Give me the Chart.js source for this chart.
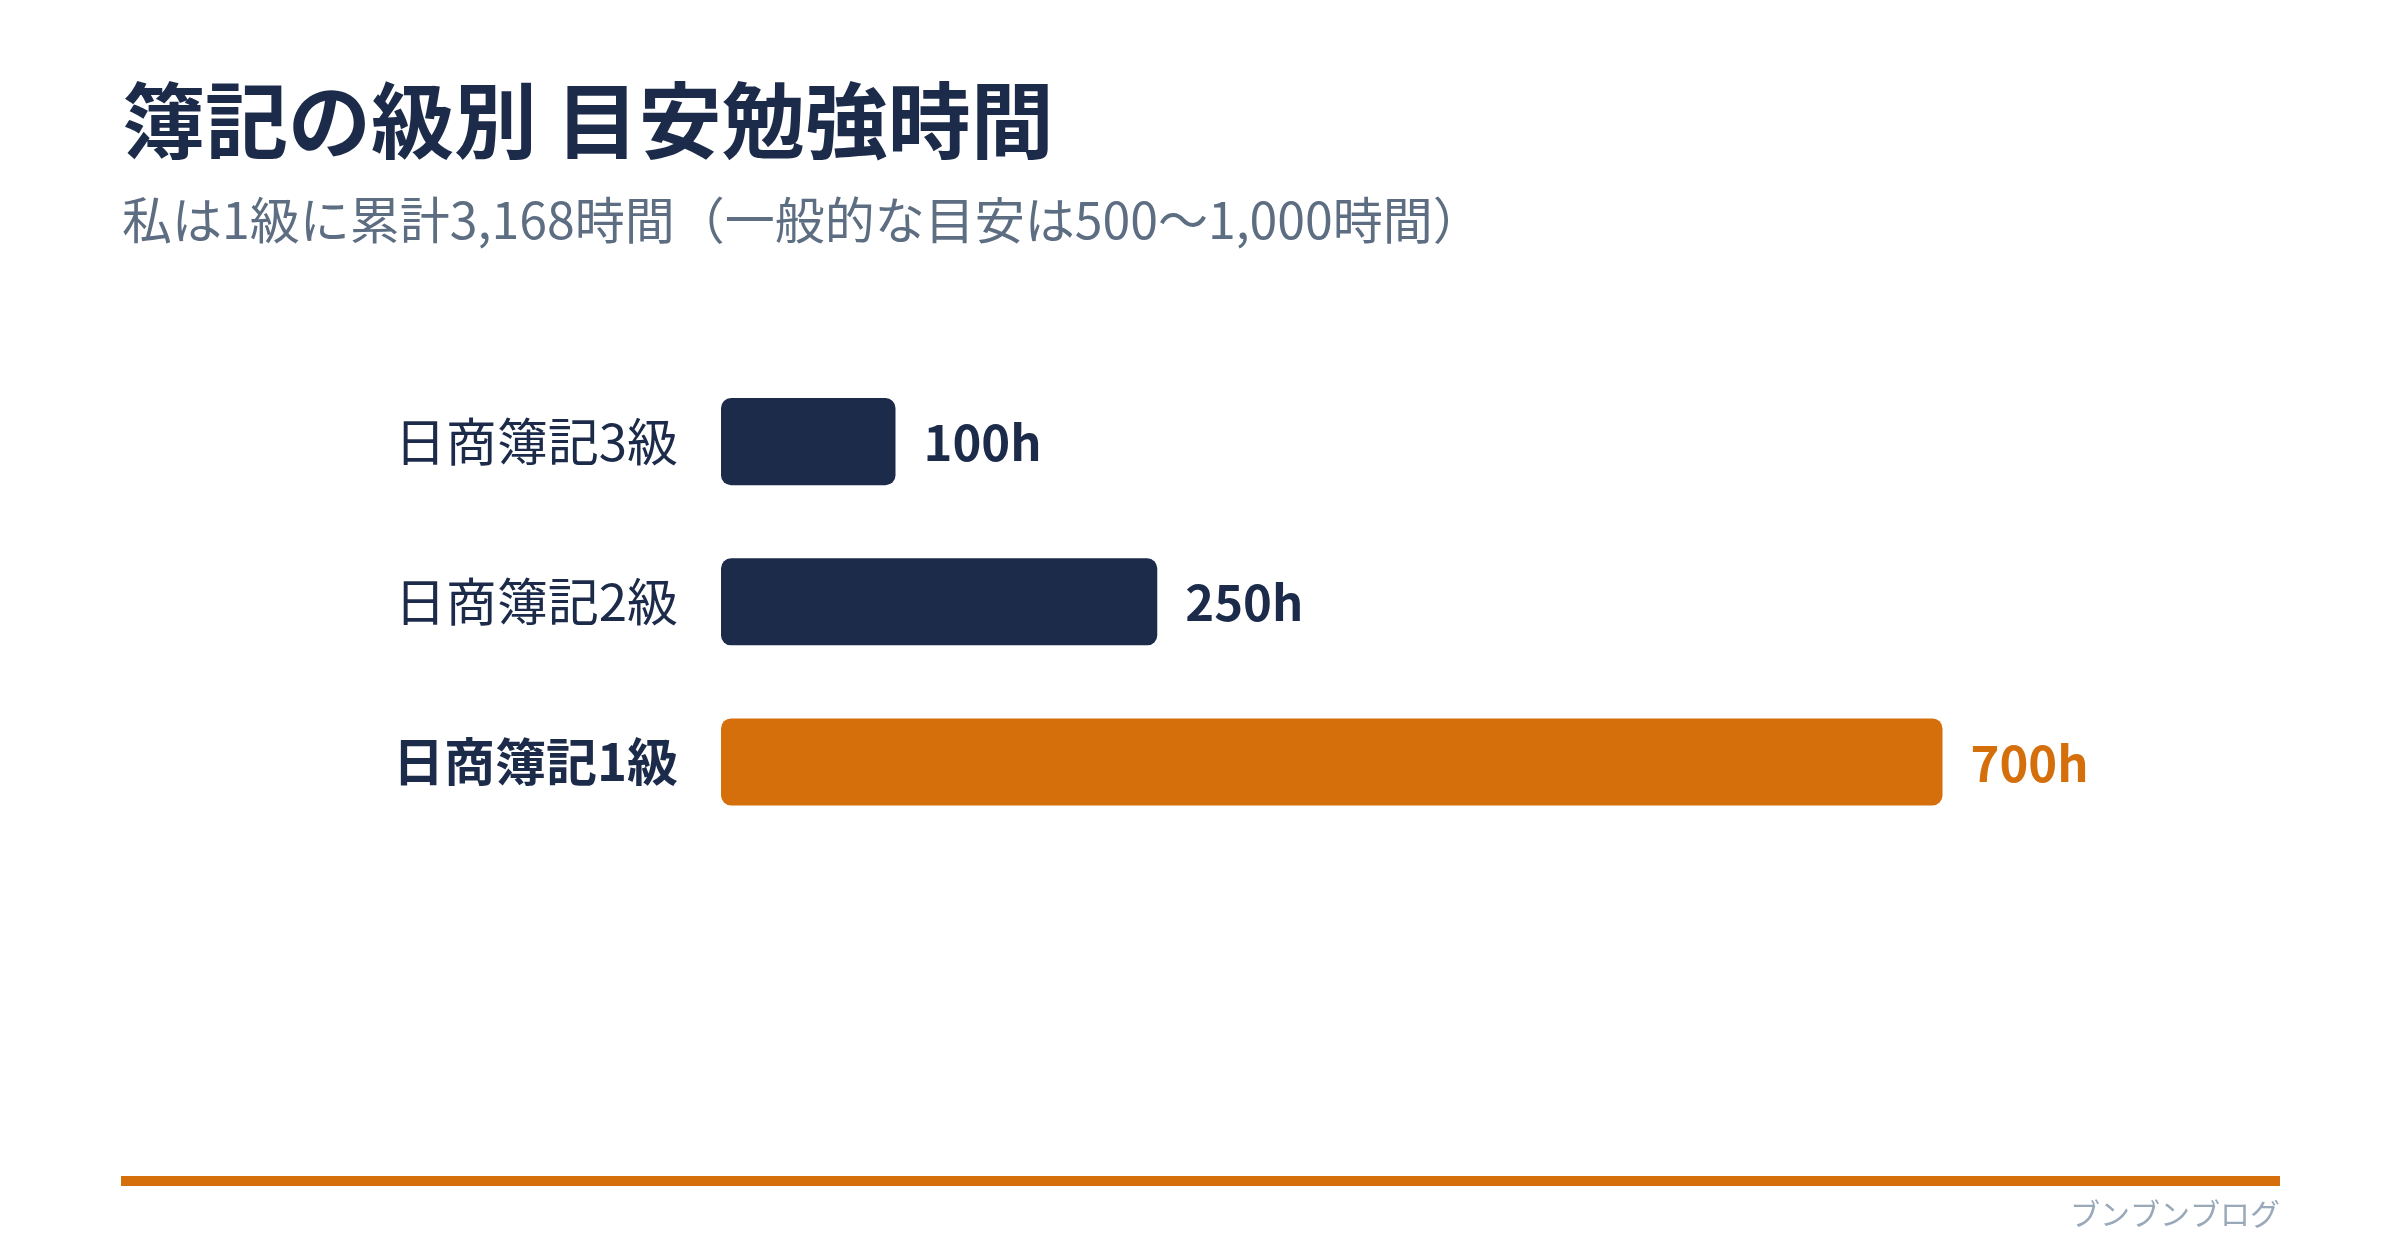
<!DOCTYPE html>
<html lang="ja">
<head>
<meta charset="utf-8">
<title>簿記の級別 目安勉強時間</title>
<script src="https://cdn.jsdelivr.net/npm/chart.js@4.4.1/dist/chart.umd.min.js"></script>
<style>
  html, body { margin: 0; padding: 0; background: #ffffff; }
  #wrap { width: 2400px; height: 1260px; }
  canvas { display: block; }
</style>
</head>
<body>
<div id="wrap"><canvas id="c" width="2400" height="1260"></canvas></div>
<script>
const categories = ['日商簿記3級', '日商簿記2級', '日商簿記1級'];
const hours = [100, 250, 700];
const valueLabels = ['100h', '250h', '700h'];
const barColors = ['#1c2b4a', '#1c2b4a', '#d46f0b'];
const labelColors = ['#1c2b4a', '#1c2b4a', '#d46f0b'];
const titleText = '簿記の級別 目安勉強時間';
const subtitleText = '私は1級に累計3,168時間（一般的な目安は500〜1,000時間）';
const footerText = 'ブンブンブログ';

const FONT = '"Noto Sans CJK JP", "Noto Sans", sans-serif';

const valueLabelPlugin = {
  id: 'valueLabels',
  afterDatasetsDraw(chart) {
    const ctx = chart.ctx;
    const meta = chart.getDatasetMeta(0);
    ctx.save();
    ctx.textAlign = 'left';
    ctx.textBaseline = 'middle';
    meta.data.forEach((bar, i) => {
      ctx.font = '600 49px ' + FONT;
      ctx.fillStyle = labelColors[i];
      ctx.fillText(valueLabels[i], bar.x + 28, bar.y + 1);
    });
    ctx.restore();
  }
};

const footerPlugin = {
  id: 'footer',
  afterDraw(chart) {
    const ctx = chart.ctx;
    ctx.save();
    ctx.fillStyle = '#d46f0b';
    ctx.fillRect(121, 1176, 2159, 10);
    ctx.font = '30px ' + FONT;
    ctx.fillStyle = '#9aa9b9';
    ctx.textAlign = 'right';
    ctx.textBaseline = 'middle';
    ctx.fillText(footerText, 2280, 1214);
    ctx.restore();
  }
};

new Chart(document.getElementById('c'), {
  type: 'bar',
  data: {
    labels: categories,
    datasets: [{
      data: hours,
      backgroundColor: barColors,
      borderRadius: 10,
      borderSkipped: false,
      barPercentage: 0.544,
      categoryPercentage: 1.0
    }]
  },
  options: {
    indexAxis: 'y',
    responsive: false,
    devicePixelRatio: 1,
    animation: false,
    layout: { padding: { top: 39, left: 122, right: 283, bottom: 418 } },
    plugins: {
      legend: { display: false },
      tooltip: { enabled: false },
      title: {
        display: true,
        text: titleText,
        align: 'start',
        color: '#1c2b4a',
        font: { family: FONT, size: 83, weight: 'bold', lineHeight: 1.2 },
        padding: { top: 32, bottom: 0 }
      },
      subtitle: {
        display: true,
        text: subtitleText,
        align: 'start',
        color: '#5e6e82',
        font: { family: FONT, size: 50, weight: 'normal', lineHeight: 1.2 },
        padding: { top: 19, bottom: 112 }
      }
    },
    scales: {
      x: {
        display: false,
        min: 0,
        max: 800
      },
      y: {
        grid: { display: false, drawTicks: false },
        border: { display: false },
        afterFit(scale) { scale.width = 599; },
        ticks: {
          padding: 43,
          color: '#1c2b4a',
          font: (ctx) => ({
            family: FONT,
            size: 51,
            weight: ctx.index === 2 ? 'bold' : 'normal'
          })
        }
      }
    }
  },
  plugins: [valueLabelPlugin, footerPlugin]
});
</script>
</body>
</html>
